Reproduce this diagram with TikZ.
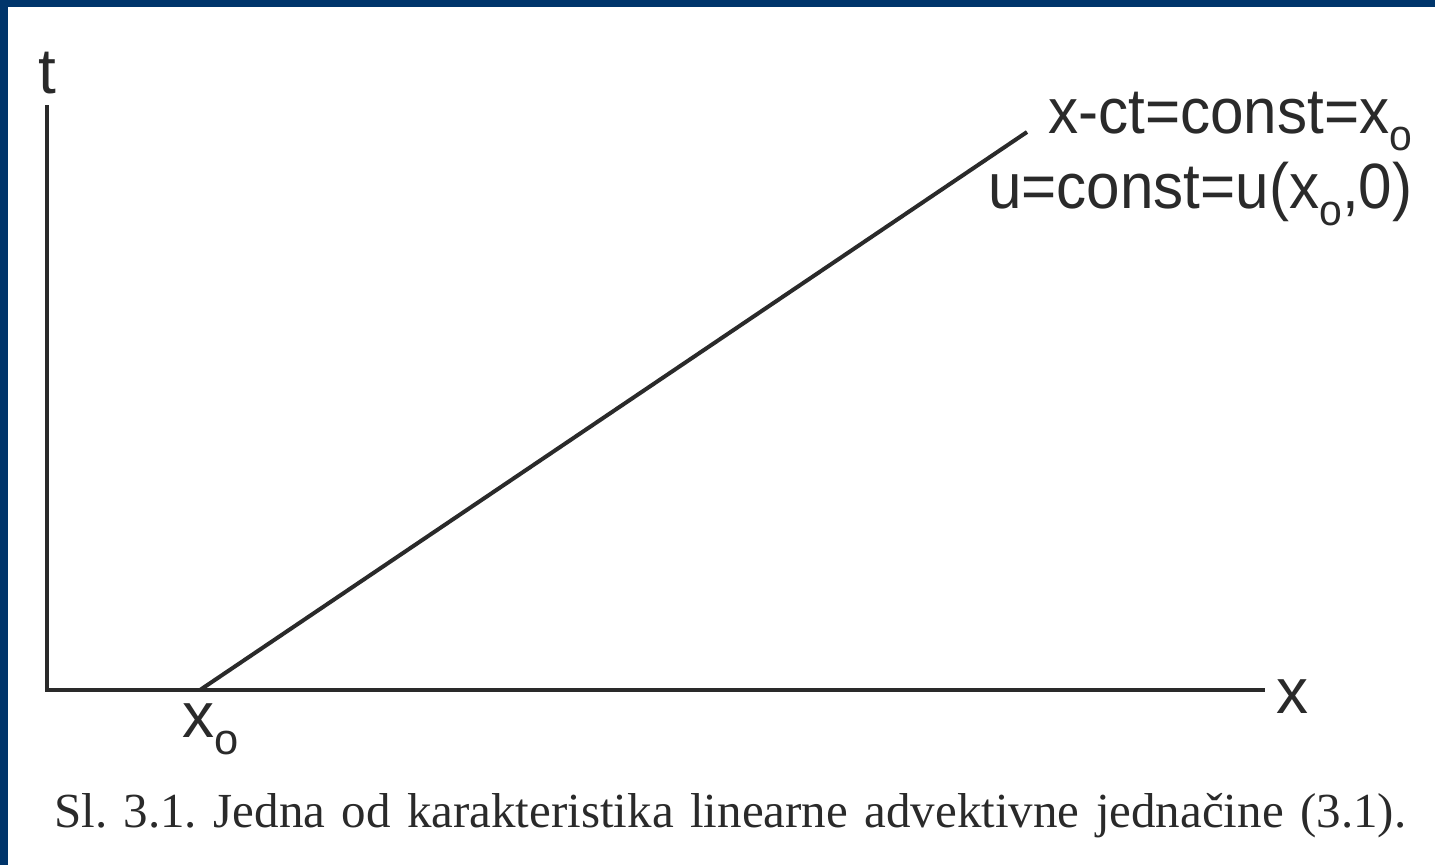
\documentclass[tikz,border=0pt]{standalone}
\usepackage{fontspec}
\setmainfont{Liberation Serif}
\newfontfamily\lblfont{Liberation Sans}
\usepackage{graphicx}
\definecolor{frameblue}{HTML}{00356B}
\definecolor{ink}{HTML}{2A2A2A}
\newcommand\subo{\raisebox{-0.27em}{\scalebox{0.68}{o}}}
\frenchspacing
\begin{document}
\begin{tikzpicture}[x=1pt,y=-1pt,
  axisline/.style={line width=4pt, draw=ink},
  lab/.style={inner sep=0pt, font=\lblfont\fontsize{64}{64}\selectfont, text=ink},
  capt/.style={inner sep=0pt, font=\fontsize{49}{49}\selectfont, text=ink}]
\useasboundingbox (0,0) rectangle (1435,865);
\fill[white] (0,0) rectangle (1435,865);
\fill[frameblue] (0,0) rectangle (1435,7);
\fill[frameblue] (0,0) rectangle (8,865);
\coordinate (T) at (47,105);
\coordinate (O) at (47,690);
\coordinate (X) at (1265,690);
\coordinate (A) at (200,690);
\coordinate (B) at (1027,132);
\draw[axisline, line join=miter] (T) -- (O) -- (X);
\draw[axisline] (A) -- (B);
\node[lab, anchor=base] (tl) at (47,93) {t};
\node[lab, anchor=base] (xl) at (1292,713) {x};
\node[lab, anchor=base west] (x0) at (182,737) {x\subo};
\node[lab, anchor=base west] (l1) at (1048,133) {\scalebox{0.94}[1]{x-ct=const=x\subo}};
\node[lab, anchor=base west] (l2) at (988,208) {\scalebox{0.94}[1]{u=const=u(x\subo,0)}};
\node[capt, anchor=base west] (cap) at (54,827) {\makebox[1352pt][s]{Sl. 3.1. Jedna od karakteristika linearne advektivne jednačine (3.1).}};
\end{tikzpicture}
\end{document}
